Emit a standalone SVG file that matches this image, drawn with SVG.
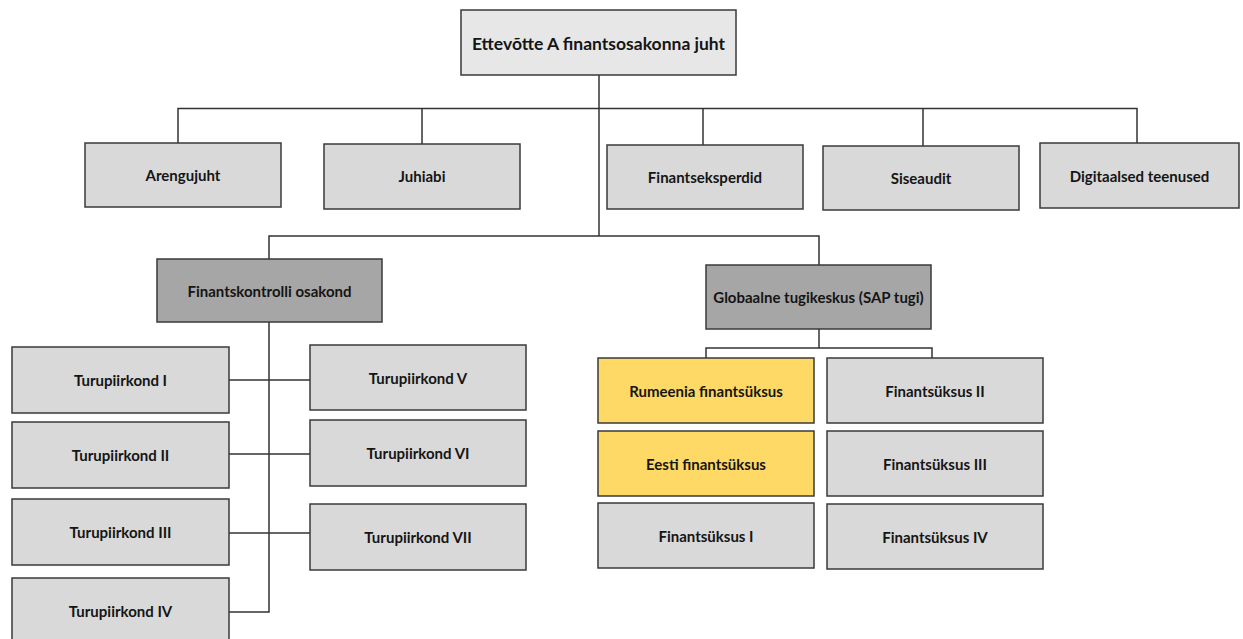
<svg xmlns="http://www.w3.org/2000/svg" width="1243" height="639" viewBox="0 0 1243 639">
  <style>
    .box { stroke: #3a3a3a; stroke-width: 1.5; }
    .light { fill: #d9d9d9; }
    .top { fill: #e7e7e7; }
    .dark { fill: #a6a6a6; }
    .yellow { fill: #ffd966; }
    .lbl { font-family: Lato, "Open Sans", "Liberation Sans", sans-serif; font-weight: bold; font-size: 15px; fill: #151515; text-anchor: middle; dominant-baseline: central; }
    .lbl.big { font-size: 17.5px; }
    .conn { fill: none; stroke: #333333; stroke-width: 1.5; }
  </style>
  <rect width="1243" height="639" fill="#ffffff"/>

  <!-- reporting lines -->
  <g id="connectors" class="conn">
    <path d="M599 75 V236"/>
    <path d="M178 143 V108.5 H1137 V143"/>
    <path d="M422 108.5 V144"/>
    <path d="M703 108.5 V145"/>
    <path d="M923 108.5 V146"/>
    <path d="M269 259 V236 H819 V265"/>
    <path d="M269 322 V612 H229"/>
    <path d="M229 380 H310"/>
    <path d="M229 454 H310"/>
    <path d="M229 533 H310"/>
    <path d="M819 329 V348"/>
    <path d="M706 358 V348 H932 V358"/>
  </g>

  <g id="head">
    <rect class="box top" x="461" y="10" width="275" height="65"/>
    <text class="lbl big" x="598.5" y="43">Ettevõtte A finantsosakonna juht</text>
  </g>

  <g id="arengujuht">
    <rect class="box light" x="85" y="143" width="196" height="64"/>
    <text class="lbl" x="183" y="175">Arengujuht</text>
  </g>
  <g id="juhiabi">
    <rect class="box light" x="324" y="144" width="196" height="65"/>
    <text class="lbl" x="422" y="176">Juhiabi</text>
  </g>
  <g id="finantseksperdid">
    <rect class="box light" x="607" y="145" width="196" height="64"/>
    <text class="lbl" x="705" y="177">Finantseksperdid</text>
  </g>
  <g id="siseaudit">
    <rect class="box light" x="823" y="146" width="196" height="64"/>
    <text class="lbl" x="921" y="178">Siseaudit</text>
  </g>
  <g id="digitaalsed">
    <rect class="box light" x="1040" y="143" width="199" height="65"/>
    <text class="lbl" x="1139.5" y="175.5">Digitaalsed teenused</text>
  </g>

  <g id="finantskontroll">
    <rect class="box dark" x="157" y="259" width="225" height="63"/>
    <text class="lbl" x="269.5" y="290.5">Finantskontrolli osakond</text>
  </g>
  <g id="globaalne">
    <rect class="box dark" x="706" y="265" width="225" height="64"/>
    <text class="lbl" x="818.5" y="297">Globaalne tugikeskus (SAP tugi)</text>
  </g>

  <g id="turu1">
    <rect class="box light" x="12" y="347" width="217" height="66"/>
    <text class="lbl" x="120.5" y="380">Turupiirkond I</text>
  </g>
  <g id="turu2">
    <rect class="box light" x="12" y="422" width="217" height="66"/>
    <text class="lbl" x="120.5" y="455">Turupiirkond II</text>
  </g>
  <g id="turu3">
    <rect class="box light" x="12" y="499" width="217" height="66"/>
    <text class="lbl" x="120.5" y="532">Turupiirkond III</text>
  </g>
  <g id="turu4">
    <rect class="box light" x="12" y="578" width="217" height="66"/>
    <text class="lbl" x="120.5" y="611">Turupiirkond IV</text>
  </g>
  <g id="turu5">
    <rect class="box light" x="310" y="345" width="216" height="65"/>
    <text class="lbl" x="418" y="377.5">Turupiirkond V</text>
  </g>
  <g id="turu6">
    <rect class="box light" x="310" y="420" width="216" height="66"/>
    <text class="lbl" x="418" y="453">Turupiirkond VI</text>
  </g>
  <g id="turu7">
    <rect class="box light" x="310" y="504" width="216" height="66"/>
    <text class="lbl" x="418" y="537">Turupiirkond VII</text>
  </g>

  <g id="rumeenia">
    <rect class="box yellow" x="598" y="358" width="216" height="65"/>
    <text class="lbl" x="706" y="390.5">Rumeenia finantsüksus</text>
  </g>
  <g id="eesti">
    <rect class="box yellow" x="598" y="431" width="216" height="65"/>
    <text class="lbl" x="706" y="463.5">Eesti finantsüksus</text>
  </g>
  <g id="yksus1">
    <rect class="box light" x="598" y="503" width="216" height="65"/>
    <text class="lbl" x="706" y="535.5">Finantsüksus I</text>
  </g>
  <g id="yksus2">
    <rect class="box light" x="827" y="358" width="216" height="65"/>
    <text class="lbl" x="935" y="390.5">Finantsüksus II</text>
  </g>
  <g id="yksus3">
    <rect class="box light" x="827" y="431" width="216" height="65"/>
    <text class="lbl" x="935" y="463.5">Finantsüksus III</text>
  </g>
  <g id="yksus4">
    <rect class="box light" x="827" y="504" width="216" height="65"/>
    <text class="lbl" x="935" y="536.5">Finantsüksus IV</text>
  </g>
</svg>
